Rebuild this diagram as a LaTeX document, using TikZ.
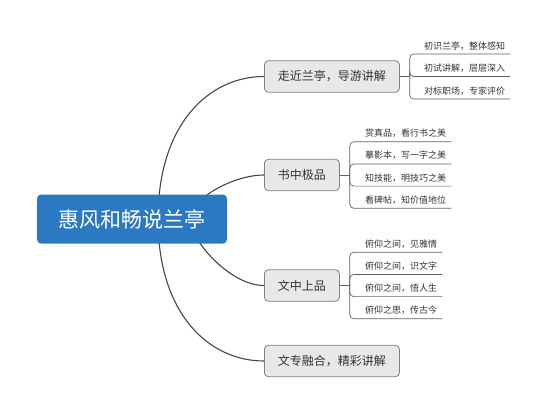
\documentclass[tikz,border=0pt]{standalone}
\usepackage{fontspec}
\setmainfont{Noto Sans CJK SC}
\definecolor{RootBlue}{HTML}{2B79C2}
\definecolor{TopicFill}{HTML}{E8E8E8}
\definecolor{TopicDraw}{HTML}{808080}
\definecolor{LineGray}{HTML}{454545}
\definecolor{TextDark}{HTML}{333333}
\usetikzlibrary{positioning, calc, backgrounds}

\begin{document}
\begin{tikzpicture}[
  x=1pt, y=-1pt,
  root/.style={fill=RootBlue, text=white, rounded corners=4pt, minimum width=190pt, minimum height=49pt,
    font=\fontsize{21pt}{25pt}\selectfont},
  topic/.style={fill=TopicFill, draw=TopicDraw, line width=0.8pt, rounded corners=4pt, text=TextDark,
    inner xsep=13.5pt, minimum height=31.5pt, anchor=west, font=\fontsize{12pt}{14pt}\selectfont},
  leaf/.style={inner sep=0pt, anchor=base west, text=TextDark, font=\fontsize{9pt}{11pt}\selectfont},
  conn/.style={draw=LineGray, line width=1.1pt},
  under/.style={draw=LineGray!85, line width=0.7pt, rounded corners=4pt},
]
  \useasboundingbox (0,0) rectangle (547,416);

  % root and main topics
  \node[root] (root) at (132,219) {惠风和畅说兰亭};
  \node[topic] (t1) at (264,76.5) {走近兰亭，导游讲解};
  \node[topic] (t2) at (264,175) {书中极品};
  \node[topic] (t3) at (264,285.5) {文中上品};
  \node[topic] (t4) at (264,361) {文专融合，精彩讲解};

  % curved branches, tucked under the root box
  \coordinate (s1) at ([xshift=26pt]root.center);
  \coordinate (s2) at ([xshift=58pt]root.center);
  \begin{scope}[on background layer]
    \draw[conn] (s1) .. controls +(0,-95) and +(-55,0) .. (t1.west);
    \draw[conn] (s2) .. controls +(0,-20) and +(-31,0) .. (t2.west);
    \draw[conn] (s2) .. controls +(0,21) and +(-34,0) .. (t3.west);
    \draw[conn] (s1) .. controls +(0,95) and +(-55,0) .. (t4.west);
  \end{scope}

  % leaves of t1
  \coordinate (j1) at ([xshift=10pt]t1.east);
  \node[leaf] (l11) at (424,49) {初识兰亭，整体感知};
  \node[leaf] (l12) at (424,71.5) {初试讲解，层层深入};
  \node[leaf] (l13) at (424,94) {对标职场，专家评价};
  \draw[under] (t1.east) -- (j1);
  \draw[under] (j1) |- ([shift={(5pt,-5pt)}]l11.base east);
  \draw[under] (j1) |- ([shift={(5pt,-5pt)}]l12.base east);
  \draw[under] (j1) |- ([shift={(5pt,-5pt)}]l13.base east);

  % leaves of t2
  \coordinate (j2) at ([xshift=10pt]t2.east);
  \node[leaf] (l21) at (365,136.7) {赏真品，看行书之美};
  \node[leaf] (l22) at (365,158.9) {摹影本，写一字之美};
  \node[leaf] (l23) at (365,181.1) {知技能，明技巧之美};
  \node[leaf] (l24) at (365,203.3) {看碑帖，知价值地位};
  \draw[under] (t2.east) -- (j2);
  \draw[under] (j2) |- ([shift={(5pt,-5pt)}]l21.base east);
  \draw[under] (j2) |- ([shift={(5pt,-5pt)}]l22.base east);
  \draw[under] (j2) |- ([shift={(5pt,-5pt)}]l23.base east);
  \draw[under] (j2) |- ([shift={(5pt,-5pt)}]l24.base east);

  % leaves of t3
  \coordinate (j3) at ([xshift=10pt]t3.east);
  \node[leaf] (l31) at (365,247.2) {俯仰之间，见雅情};
  \node[leaf] (l32) at (365,269.4) {俯仰之间，识文字};
  \node[leaf] (l33) at (365,291.6) {俯仰之间，悟人生};
  \node[leaf] (l34) at (365,313.8) {俯仰之思，传古今};
  \draw[under] (t3.east) -- (j3);
  \draw[under] (j3) |- ([shift={(5pt,-5pt)}]l31.base east);
  \draw[under] (j3) |- ([shift={(5pt,-5pt)}]l32.base east);
  \draw[under] (j3) |- ([shift={(5pt,-5pt)}]l33.base east);
  \draw[under] (j3) |- ([shift={(5pt,-5pt)}]l34.base east);
\end{tikzpicture}
\end{document}
